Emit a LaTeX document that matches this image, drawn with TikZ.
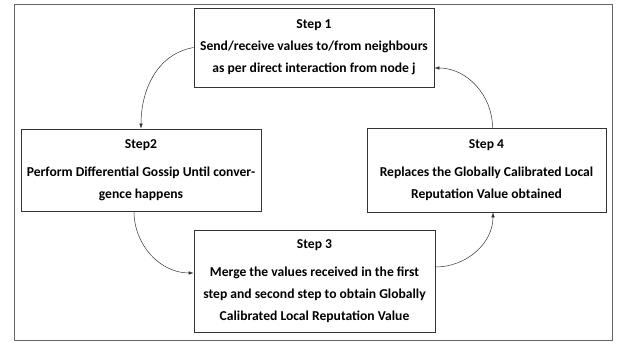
\documentclass[tikz,border=0pt]{standalone}
\usepackage{fontspec}
\setmainfont{Carlito}
\usetikzlibrary{arrows.meta}
\tikzstyle{stepbox}=[draw=black!80, line width=0.7pt, align=center, inner sep=0pt, font=\bfseries\fontsize{13.6}{22}\selectfont]
\tikzstyle{flow}=[draw=black!80, line width=0.5pt, -{Latex[length=5pt, width=3.5pt]}]

\begin{document}
\begin{tikzpicture}[x=1pt, y=-1pt]
        \useasboundingbox (0,0) rectangle (618,344);
        \draw[black!60, line width=0.8pt] (14,4) rectangle (612,340);
        \node[stepbox, minimum width=240pt, minimum height=79pt] (s1) at (314,47.5) {Step 1\\Send/receive values to/from neighbours\\as per direct interaction from node j};
        \node[stepbox, minimum width=240pt, minimum height=82pt] (s2) at (141,170) {Step2\\[6pt]Perform Differential Gossip Until conver-\\gence happens};
        \node[stepbox, minimum width=239pt, minimum height=84pt] (s4) at (486.5,170) {Step 4\\[6pt]Replaces the Globally Calibrated Local\\Reputation Value obtained};
        \node[stepbox, minimum width=241pt, minimum height=102pt] (s3) at (314.5,281) {Step 3\\[6pt]Merge the values received in the first\\step and second step to obtain Globally\\Calibrated Local Reputation Value};
        \draw[flow] (s1.west) to[out=190, in=90] (s2.north);
        \draw[flow] ([xshift=-7pt]s2.south) to[out=270, in=180] ([yshift=8pt]s3.west);
        \draw[flow] ([yshift=14pt]s3.east) to[out=0, in=270] ([xshift=6.5pt]s4.south);
        \draw[flow] ([xshift=6pt]s4.north) to[out=90, in=0] ([yshift=-20.5pt]s1.east);
    \end{tikzpicture}
\end{document}
